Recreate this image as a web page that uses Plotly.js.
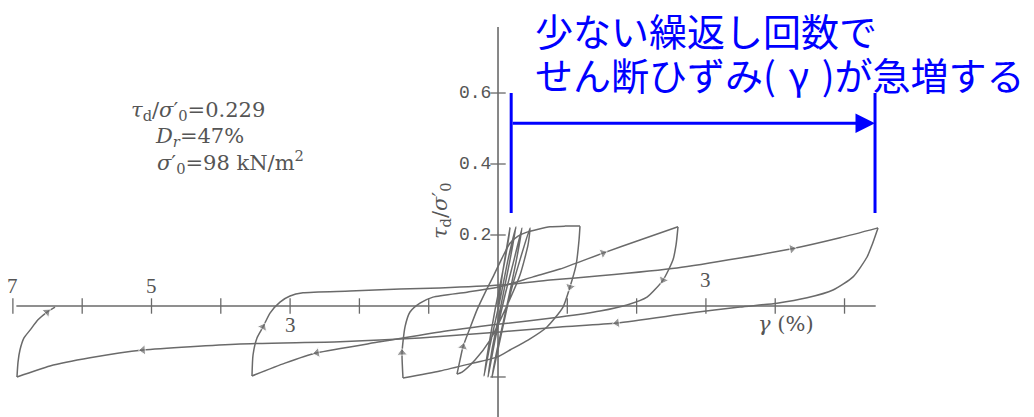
<!DOCTYPE html>
<html>
<head>
<meta charset="utf-8">
<script src="https://cdn.plot.ly/plotly-3.0.1.min.js"></script>
<style>
  html, body { margin: 0; padding: 0; background: #fff; }
  #chart { width: 1034px; height: 417px; }
</style>
</head>
<body>
<div id="chart"></div>
<script>
const firstCyclesGamma = [0, 0.072, 0.173, 0.101, -0.043, -0.144, -0.202, -0.115, 0.029, 0.144, 0.26, 0.173, 0.029, -0.087, -0.144, -0.043, 0.101, 0.231, 0.346, 0.26, 0.115, -0.014, -0.087, 0.029, 0.173, 0.317, 0.462, 0.433, 0.317, 0.101, -0.115, -0.332, -0.519, -0.592];
const firstCyclesTau = [0, 0.101, 0.22, 0.13, -0.011, -0.124, -0.197, -0.11, 0.017, 0.13, 0.223, 0.13, -0.011, -0.124, -0.2, -0.096, 0.031, 0.13, 0.22, 0.124, -0.011, -0.124, -0.2, -0.096, 0.031, 0.13, 0.22, 0.172, 0.087, -0.011, -0.096, -0.152, -0.186, -0.192];

const load2Gamma = [-0.592, -0.548, -0.505, -0.404, -0.303, -0.188, -0.072, 0.058, 0.173, 0.289, 0.418, 0.75, 0.967, 1.183];
const load2Tau = [-0.192, -0.152, -0.115, -0.062, -0.011, 0.037, 0.082, 0.135, 0.177, 0.197, 0.208, 0.223, 0.225, 0.225];
const unload2Gamma = [1.183, 1.169, 1.126, 1.039, 0.938, 0.707, 0.433, 0.173, -0.014, -0.404, -0.837, -1.371];
const unload2Tau = [0.225, 0.186, 0.115, 0.054, -0.003, -0.059, -0.096, -0.124, -0.144, -0.163, -0.183, -0.203];

const load3Gamma = [-1.371, -1.385, -1.342, -1.27, -1.126, -0.938, -0.447, 0.029, 0.505, 0.895, 1.515, 2.049, 2.597];
const load3Tau = [-0.203, -0.132, -0.059, -0.017, 0.008, 0.025, 0.039, 0.054, 0.082, 0.104, 0.149, 0.186, 0.223];
const unload3Gamma = [2.597, 2.569, 2.525, 2.381, 2.15, 1.861, 1.472, 0.895, 0.029, -0.837, -1.703, -2.612, -3.074, -3.55];
const unload3Tau = [0.223, 0.172, 0.13, 0.073, 0.025, 0.003, -0.014, -0.031, -0.051, -0.073, -0.101, -0.132, -0.161, -0.197];

const load4Gamma = [-3.55, -3.535, -3.478, -3.391, -3.29, -3.146, -3.001, -2.814, -2.136, -1.414, -0.837, 0.029, 0.75, 1.472, 2.583, 3.492, 4.242, 4.935, 5.483];
const load4Tau = [-0.197, -0.138, -0.09, -0.059, -0.02, 0.011, 0.028, 0.037, 0.042, 0.048, 0.051, 0.059, 0.073, 0.085, 0.107, 0.135, 0.161, 0.192, 0.22];
const unload4Gamma = [5.483, 5.397, 5.325, 5.123, 4.834, 4.459, 4.026, 3.492, 2.771, 1.717, 0.895, 0.029, -1.126, -2.28, -3.723, -5.123, -5.887, -6.465, -6.941];
const unload4Tau = [0.22, 0.172, 0.138, 0.082, 0.045, 0.023, 0.008, -0.003, -0.02, -0.048, -0.059, -0.073, -0.09, -0.101, -0.107, -0.124, -0.146, -0.169, -0.2];

const load5Gamma = [-6.941, -6.926, -6.898, -6.84, -6.753, -6.638, -6.508, -6.392];
const load5Tau = [-0.2, -0.158, -0.124, -0.09, -0.068, -0.039, -0.017, -0.003];

// direction arrows: [branch, point index]; arrow points from the previous point to this one
const arrowMarks = [["load5", 6], ["unload4", 9], ["unload4", 15], ["load4", 3], ["load4", 16],
  ["unload3", 3], ["unload3", 11], ["load3", 1], ["load3", 10], ["unload2", 3], ["load2", 2]];

const xTickVals = [-7, -6, -5, -4, -3, -2, -1, 1, 2, 3, 4, 5];
const xLabelsAbove = [-7, -5, 3];
const xLabelsBelow = [-3];
const yTickVals = [0.6, 0.4, 0.2, -0.2];
const yLabelVals = [0.6, 0.4, 0.2];
const xAxisSpan = [-6.95, 5.45];
const yAxisSpan = [-0.33, 0.786];

// blue bracket: strain range and stress heights
const bracketGamma = [0.19, 5.44];
const bracketTau = [0.262, 0.6];
const bracketArrowTau = 0.515;

const INK = "#6a6a6a";
const TEXT = "#555";
const BLUE = "#0000ff";
const SERIF = "DejaVu Serif, Liberation Serif, serif";
const CJK = "Noto Sans CJK JP";

const branches = {
  firstCycles: [firstCyclesGamma, firstCyclesTau],
  load2: [load2Gamma, load2Tau], unload2: [unload2Gamma, unload2Tau],
  load3: [load3Gamma, load3Tau], unload3: [unload3Gamma, unload3Tau],
  load4: [load4Gamma, load4Tau], unload4: [unload4Gamma, unload4Tau],
  load5: [load5Gamma, load5Tau],
};

const traces = [];

// axes drawn through the origin
traces.push({ x: xAxisSpan, y: [0, 0], mode: "lines", line: { color: INK, width: 1.6 }, hoverinfo: "skip" });
traces.push({ x: [0, 0], y: yAxisSpan, mode: "lines", line: { color: INK, width: 1.6 }, hoverinfo: "skip" });
traces.push({
  x: xTickVals, y: xTickVals.map(() => 0), mode: "markers",
  marker: { symbol: "line-ns", size: 11, line: { color: INK, width: 1.3 } }, hoverinfo: "skip",
});
traces.push({
  x: yTickVals.map(() => 0), y: yTickVals, mode: "markers",
  marker: { symbol: "line-ew", size: 11, line: { color: INK, width: 1.3 } }, hoverinfo: "skip",
});

Object.values(branches).forEach(([g, t]) => {
  traces.push({
    x: g, y: t, mode: "lines",
    line: { color: INK, width: 1.5, shape: "spline", smoothing: 0.6 },
    hoverinfo: "skip",
  });
});

arrowMarks.forEach(([name, i]) => {
  const [g, t] = branches[name];
  traces.push({
    x: [g[i - 1], g[i]], y: [t[i - 1], t[i]], mode: "markers",
    marker: { symbol: "triangle-up", size: [0, 9], angleref: "previous", color: INK },
    hoverinfo: "skip",
  });
});

// bracket verticals
bracketGamma.forEach((g) => {
  traces.push({ x: [g, g], y: bracketTau, mode: "lines", line: { color: BLUE, width: 3 }, hoverinfo: "skip" });
});

const annotations = [];

xLabelsAbove.forEach((v) => annotations.push({
  x: v, y: 0, text: String(Math.abs(v)), showarrow: false, xanchor: "center", yanchor: "bottom",
  yshift: v > 0 ? 12 : 6, font: { family: "Liberation Serif, serif", size: 21, color: TEXT },
}));
xLabelsBelow.forEach((v) => annotations.push({
  x: v, y: 0, text: String(Math.abs(v)), showarrow: false, xanchor: "center", yanchor: "top",
  yshift: -5, font: { family: "Liberation Serif, serif", size: 21, color: TEXT },
}));
yLabelVals.forEach((v) => annotations.push({
  x: 0, y: v, text: v.toFixed(1), showarrow: false, xanchor: "right", yanchor: "middle", xshift: -5,
  font: { family: "Liberation Mono, monospace", size: 18, color: TEXT },
}));

function note(px, py, text, size, anchor, extra) {
  return Object.assign({
    xref: "paper", yref: "paper", x: px / 1034, y: 1 - py / 417, text, showarrow: false,
    xanchor: anchor, yanchor: "middle", font: { family: SERIF, size, color: TEXT },
  }, extra || {});
}

annotations.push(
  note(441, 211, "<i>τ</i><sub>d</sub>/<i>σ</i>′<sub>0</sub>", 21, "center", { textangle: -90 }),
  note(786, 324, "<i>γ</i> (%)", 21, "center"),
  note(129, 111, "<i>τ</i><sub>d</sub>/<i>σ</i>′<sub>0</sub>=0.229", 21, "left"),
  note(153, 137, "<i>D</i><sub><i>r</i></sub>=47%", 21, "left"),
  note(155, 162, "<i>σ</i>′<sub>0</sub>=98 kN/m<sup>2</sup>", 21, "left"),
  note(533, 29, "少ない繰返し回数で", 38, "left", { font: { family: CJK, size: 38, color: BLUE } }),
  note(533, 73, "せん断ひずみ(\u2004γ\u2004)が急増する", 38, "left", { font: { family: CJK, size: 38, color: BLUE } }),
  {
    x: bracketGamma[1], y: bracketArrowTau, ax: bracketGamma[0], ay: bracketArrowTau,
    axref: "x", ayref: "y", text: "", showarrow: true,
    arrowhead: 2, arrowsize: 1.3, arrowwidth: 3, arrowcolor: BLUE, standoff: 0,
  }
);

const layout = {
  width: 1034,
  height: 417,
  margin: { l: 0, r: 0, t: 0, b: 0 },
  paper_bgcolor: "#fff",
  plot_bgcolor: "#fff",
  showlegend: false,
  xaxis: { range: [-7.186, 7.734], visible: false, fixedrange: true },
  yaxis: { range: [-0.3127, 0.862], visible: false, fixedrange: true },
  annotations,
};

Plotly.newPlot("chart", traces, layout, { staticPlot: true });
</script>
</body>
</html>
